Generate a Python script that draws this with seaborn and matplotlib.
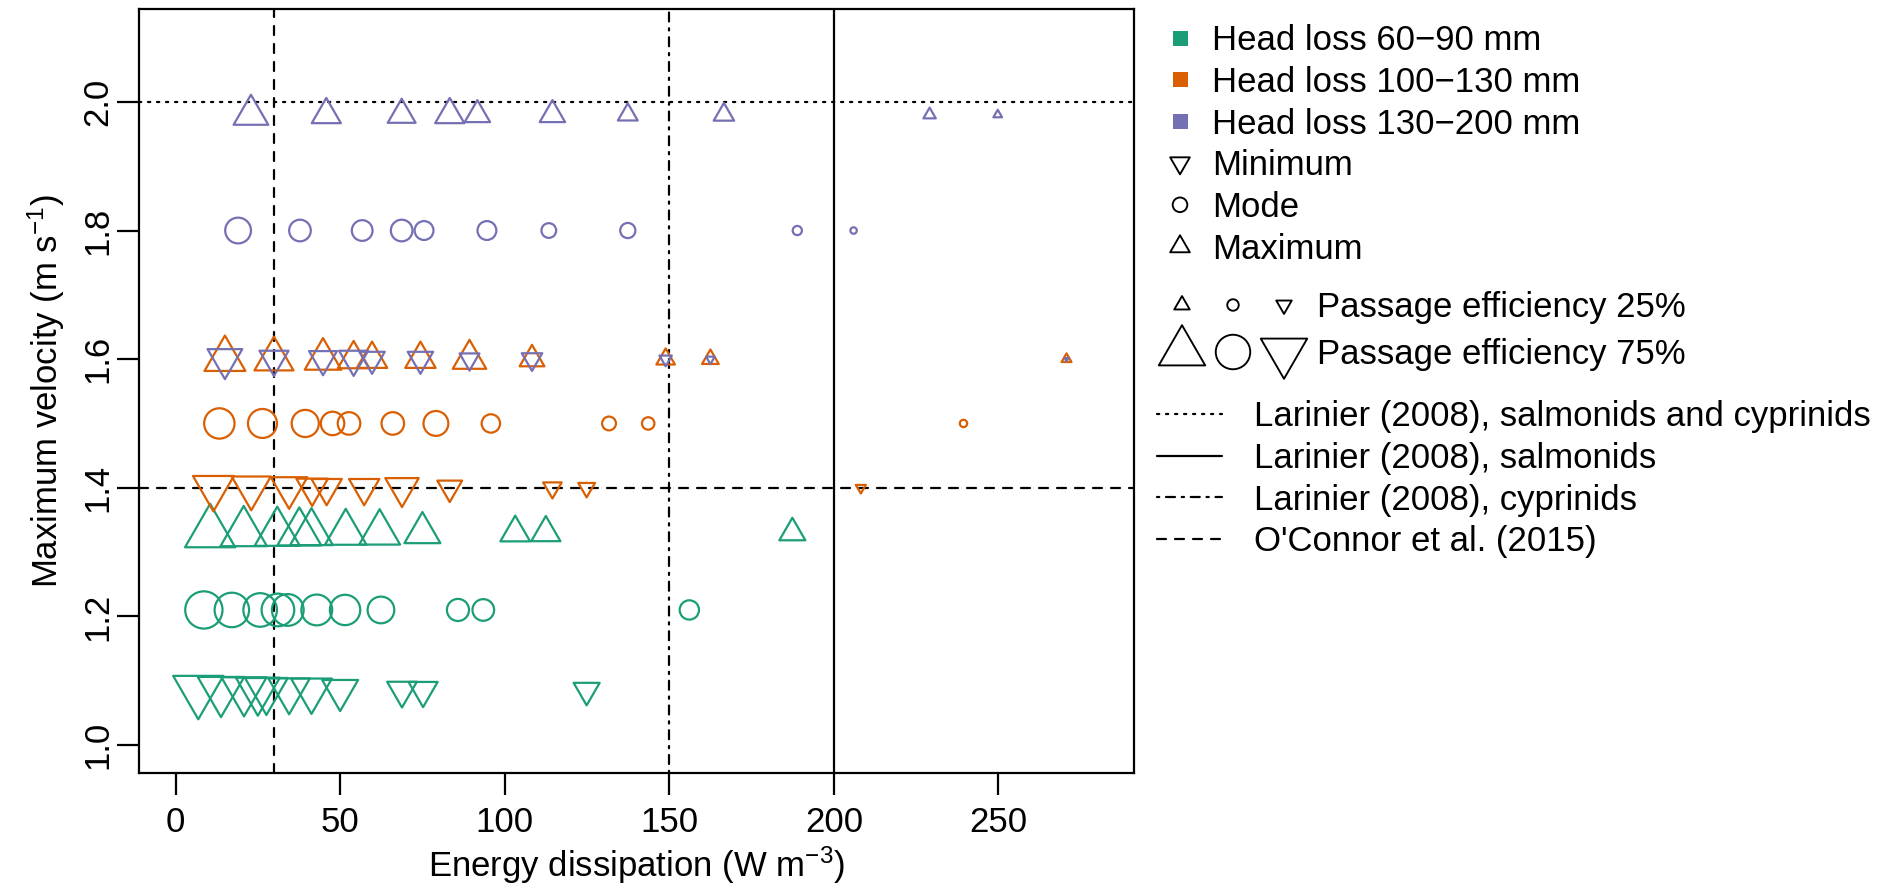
import numpy as np
import pandas as pd
import matplotlib
matplotlib.use("Agg")
import matplotlib.pyplot as plt
from matplotlib.path import Path
import seaborn as sns

# ---------------------------------------------------------------------------
# Data: energy dissipation (W m^-3) of each pool configuration, for the
# minimum, mode and maximum of the maximum velocity, by head-loss class,
# plus the predicted passage efficiency (%) of each configuration.
# ---------------------------------------------------------------------------
group_labels = ["Head loss 60\u221290 mm", "Head loss 100\u2212130 mm", "Head loss 130\u2212200 mm"]
stat_labels = ["Minimum", "Mode", "Maximum"]

green_velocity = [1.085, 1.21, 1.33]
green_energy_min = [6.9, 13.8, 20.8, 25.0, 27.6, 34.5, 41.3, 50.0, 68.8, 75.2, 124.9]
green_energy_mode = [8.6, 17.1, 25.7, 31.1, 34.1, 42.9, 51.5, 62.4, 85.8, 93.5, 156.1]
green_energy_max = [10.5, 20.7, 30.9, 37.6, 41.3, 51.7, 62.0, 75.0, 103.2, 112.5, 187.4]
green_efficiency = [81, 75, 73, 71, 69, 67, 66, 58, 48, 47, 42]

orange_velocity = [1.40, 1.50, 1.60]
orange_energy_min = [11.5, 23.0, 34.5, 41.5, 45.9, 57.3, 68.8, 83.3, 114.5, 124.9, 208.2]
orange_energy_mode = [13.3, 26.4, 39.4, 47.7, 52.7, 66.0, 79.1, 95.8, 131.7, 143.6, 239.4]
orange_energy_max = [15.0, 29.9, 44.8, 54.1, 59.7, 74.4, 89.3, 108.3, 148.9, 162.5, 270.7]
orange_efficiency = [66, 63, 59, 51, 49, 49, 54, 40, 30, 27, 16]

purple_velocity = [1.60, 1.80, 1.98]
purple_energy_min = [15.0, 29.9, 44.8, 54.1, 59.7, 74.4, 89.3, 108.3, 148.9, 162.5, 270.7]
purple_energy_mode = [19.0, 37.8, 56.7, 68.7, 75.5, 94.6, 113.4, 137.4, 188.9, 206.0]
purple_energy_max = [22.9, 45.8, 68.7, 83.3, 91.7, 114.5, 137.4, 166.6, 229.1, 249.8]
purple_efficiency = [56, 47, 45, 47, 41, 41, 32, 33, 20, 14, 6]

# Reference thresholds
larinier_both_velocity = 2.0      # salmonids and cyprinids
larinier_salmonid_energy = 200    # salmonids
larinier_cyprinid_energy = 150    # cyprinids
oconnor_velocity = 1.4
oconnor_energy = 30

legend_efficiency = [25, 75]
line_labels = ["Larinier (2008), salmonids and cyprinids", "Larinier (2008), salmonids",
               "Larinier (2008), cyprinids", "O'Connor et al. (2015)"]

x_ticks = [0, 50, 100, 150, 200, 250]
y_ticks = [1.0, 1.2, 1.4, 1.6, 1.8, 2.0]
y_tick_labels = ["1.0", "1.2", "1.4", "1.6", "1.8", "2.0"]

# ---------------------------------------------------------------------------
W, H, DPI = 1892, 896, 100
PT = 72.0 / DPI                 # points per pixel
FS = 25                         # font size (pt)
LW = 1.6                        # line width (pt)

sns.set_theme(style="ticks")
plt.rcParams["font.family"] = ["Liberation Sans", "DejaVu Sans"]
plt.rcParams["mathtext.fontset"] = "custom"
plt.rcParams["mathtext.rm"] = "Liberation Sans"
plt.rcParams["mathtext.it"] = "Liberation Sans:italic"
plt.rcParams["mathtext.default"] = "regular"
plt.rcParams["lines.scale_dashes"] = False

palette = dict(zip(group_labels, sns.color_palette("Dark2", 3)))

# Triangle glyphs with the centroid on the data point
TRC0 = np.sqrt(4 * np.pi / (3 * np.sqrt(3)))
TRC1 = TRC0 * np.sqrt(3) / 2
TRC2 = TRC0 / 2
up_tri = Path([(0, TRC0), (-TRC1, -TRC2), (TRC1, -TRC2), (0, TRC0)], closed=True)
down_tri = Path([(0, -TRC0), (-TRC1, TRC2), (TRC1, TRC2), (0, -TRC0)], closed=True)
marker_map = {"Minimum": down_tri, "Mode": "o", "Maximum": up_tri}

R_PER_PCT = 0.23  # symbol radius (px) per % passage efficiency


def marker_area(stat, r_px):
    r_pt = r_px * PT
    ms = 2 * r_pt if stat == "Mode" else 2 * TRC0 * r_pt
    return ms ** 2


series = [
    (group_labels[0], green_velocity, [green_energy_min, green_energy_mode, green_energy_max], green_efficiency),
    (group_labels[1], orange_velocity, [orange_energy_min, orange_energy_mode, orange_energy_max], orange_efficiency),
    (group_labels[2], purple_velocity, [purple_energy_min, purple_energy_mode, purple_energy_max], purple_efficiency),
]
records = []
for grp, vels, energies, eff in series:
    for stat, v, e_list in zip(stat_labels, vels, energies):
        for e, p in zip(e_list, eff):
            records.append({"group": grp, "stat": stat, "velocity": v, "energy": e, "efficiency": p})
df = pd.DataFrame(records)
df["area"] = [marker_area(s, R_PER_PCT * p) for s, p in zip(df["stat"], df["efficiency"])]

# ---------------------------------------------------------------------------
fig = plt.figure(figsize=(W / DPI, H / DPI), dpi=DPI)
ax = fig.add_axes([138.7 / W, 1 - 773.3 / H, (1134 - 138.7) / W, (773.3 - 9.3) / H])

sns.scatterplot(data=df, x="energy", y="velocity", hue="group", palette=palette,
                style="stat", markers=marker_map, size="area",
                sizes={a: a for a in df["area"].unique()},
                legend=False, ax=ax, linewidth=LW, zorder=3)
pts = ax.collections[-1]
face = pts.get_facecolors().copy()
pts.set_edgecolors(face)
pts.set_facecolors("none")
pts.set_linewidths(LW)

# Line types (lengths in points)
u = 2.25 * PT
dotted = (0, (u, 3 * u))
dashed = (0, (4 * u, 4 * u))
dotdash = (0, (u, 3 * u, 4 * u, 3 * u))
line_styles = [dotted, "solid", dotdash, dashed]

ref_kw = dict(color="black", lw=LW, dash_capstyle="round", zorder=2)
ax.axhline(larinier_both_velocity, linestyle=dotted, **ref_kw)
ax.axvline(larinier_salmonid_energy, linestyle="solid", **ref_kw)
ax.axvline(larinier_cyprinid_energy, linestyle=dotdash, **ref_kw)
ax.axhline(oconnor_velocity, linestyle=dashed, **ref_kw)
ax.axvline(oconnor_energy, linestyle=dashed, **ref_kw)

ax.set_xlim(-11.2, 291.2)
ax.set_ylim(0.956, 2.144)
ax.set_xticks(x_ticks)
ax.set_xticklabels([str(t) for t in x_ticks])
ax.set_yticks(y_ticks)
ax.set_yticklabels(y_tick_labels, rotation=90, va="center")
ax.tick_params(axis="both", direction="out", length=22 * PT, width=LW, color="black",
               labelsize=FS, labelcolor="black")
ax.tick_params(axis="x", pad=8)
ax.tick_params(axis="y", pad=2)
for sp in ax.spines.values():
    sp.set_visible(True)
    sp.set_color("black")
    sp.set_linewidth(LW)

ax.set_xlabel("Energy dissipation (W m$^{-3}$)", fontsize=FS, color="black")
ax.set_ylabel("Maximum velocity (m s$^{-1}$)", fontsize=FS, color="black")
ax.xaxis.set_label_coords(0.5, (773.3 - 876.5) / 764.0)
ax.xaxis.label.set_va("baseline")
ax.yaxis.set_label_coords((58 - 138.7) / 995.3, 0.5)
ax.yaxis.label.set_va("baseline")

# ---------------------------------------------------------------------------
# Legend panel, laid out in pixel coordinates
lax = fig.add_axes([0, 0, 1, 1])
lax.set_xlim(0, W)
lax.set_ylim(H, 0)
lax.axis("off")
cap_half = 0.716 * FS / PT / 2


def put_text(x, y, s):
    lax.text(x, y + cap_half, s, fontsize=FS, va="baseline", ha="left", color="black")


def put_marker(x, y, stat, r_px):
    lax.scatter([x], [y], marker=marker_map[stat], s=marker_area(stat, r_px),
                facecolors="none", edgecolors="black", linewidths=LW * 0.85, clip_on=False)


row1 = [37.6 + 41.8 * i for i in range(6)]
for y, grp in zip(row1[:3], group_labels):
    lax.scatter([1180], [y], marker="s", s=(15 * PT) ** 2, color=palette[grp], linewidths=0)
    put_text(1212, y, grp)
for y, stat in zip(row1[3:], ["Minimum", "Mode", "Maximum"]):
    put_marker(1180, y, stat, 7.3)
    put_text(1212, y, stat)

row2 = [305, 352]
for y, p in zip(row2, legend_efficiency):
    r = R_PER_PCT * p
    for x, stat in zip([1182, 1233, 1284], ["Maximum", "Mode", "Minimum"]):
        put_marker(x, y, stat, r)
    put_text(1316.5, y, f"Passage efficiency {p}%")

row3 = [414 + 41.6 * i for i in range(4)]
for y, ls, lab in zip(row3, line_styles, line_labels):
    lax.plot([1157, 1221.5], [y, y], color="black", lw=LW, linestyle=ls, dash_capstyle="round")
    put_text(1253.7, y, lab)

fig.savefig("out.png", dpi=DPI, facecolor="white")
